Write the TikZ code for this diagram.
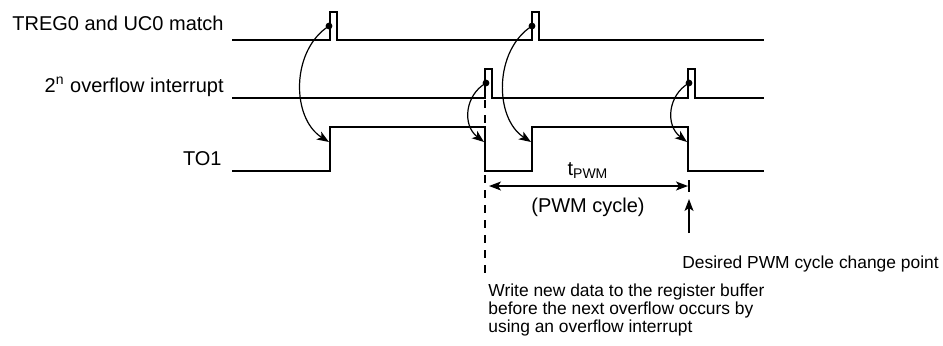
\documentclass[tikz,border=0pt]{standalone}
\usepackage{fontspec}
\setmainfont{Liberation Sans}
\usetikzlibrary{arrows.meta}
\tikzset{
  wave/.style={line width=1pt,line join=miter},
  cause/.style={-{Stealth[length=6pt,width=4.5pt,inset=1.5pt]},line width=0.6pt},
  span/.style={{Stealth[length=6pt,width=4.5pt,inset=1.5pt]}-{Stealth[length=6pt,width=4.5pt,inset=1.5pt]},line width=0.7pt},
  pointer/.style={-{Stealth[length=6pt,width=4.5pt,inset=1.5pt]},line width=0.7pt},
  hit/.style={circle,fill,inner sep=0pt,minimum size=3.4pt},
  siglabel/.style={anchor=base east,inner sep=0pt,font=\fontsize{10}{12}\selectfont},
  note/.style={inner sep=0pt,align=left,font=\fontsize{8.7}{9}\selectfont}
}
\begin{document}
\begin{tikzpicture}[x=0.5pt,y=-0.5pt]
  \useasboundingbox (0,0) rectangle (943,345);
  % signal names
  \node[siglabel] (lmatch) at (224,30) {TREG0 and UC0 match};
  \node[siglabel] (lovf) at (224,92) {2\textsuperscript{n} overflow interrupt};
  \node[siglabel] (lto) at (222,165) {TO1};
  % waveforms
  \draw[wave] (232,40) -- (330,40) -- (330,12) -- (337,12) -- (337,40) -- (532,40)
    -- (532,12) -- (539,12) -- (539,40) -- (764,40);
  \draw[wave] (232,98) -- (485,98) -- (485,69) -- (492,69) -- (492,98) -- (688,98)
    -- (688,69) -- (695,69) -- (695,98) -- (764,98);
  \draw[wave] (232,171) -- (330,171) -- (330,127) -- (485,127) -- (485,171) -- (532,171)
    -- (532,127) -- (688,127) -- (688,171) -- (764,171);
  \draw[line width=1pt,dash pattern=on 4pt off 3.5pt] (485,100) -- (485,277);
  % trigger points
  \node[hit] (m1) at (329,26) {};
  \node[hit] (m2) at (532,26) {};
  \node[hit] (o1) at (486,83) {};
  \node[hit] (o2) at (689,83) {};
  \coordinate (e1) at (329,142);
  \coordinate (e2) at (531,142);
  \coordinate (e3) at (484,142);
  \coordinate (e4) at (687,142);
  \draw[cause] (m1.center) .. controls (291,50) and (291,118) .. (e1);
  \draw[cause] (m2.center) .. controls (494,50) and (494,118) .. (e2);
  \draw[cause] (o1.center) .. controls (465,95) and (462,125) .. (e3);
  \draw[cause] (o2.center) .. controls (668,95) and (665,125) .. (e4);
  % PWM cycle
  \coordinate (c0) at (489,186);
  \coordinate (c1) at (688,186);
  \draw[span] (c0) -- (c1);
  \draw[line width=0.8pt] (689,180) -- (689,192);
  \node[anchor=base,inner sep=0pt,font=\fontsize{10}{12}\selectfont] (tpwm) at (588,175) {t\textsubscript{PWM}};
  \node[anchor=base,inner sep=0pt,font=\fontsize{10}{12}\selectfont] (cyc) at (588,212) {(PWM cycle)};
  % notes
  \coordinate (chg) at (689,233);
  \coordinate (chgtip) at (689,199);
  \draw[pointer] (chg) -- (chgtip);
  \node[note,anchor=base west] (desired) at (682,268) {Desired PWM cycle change point};
  \node[note,anchor=north west] (write) at (488,283) {Write new data to the register buffer\\
    before the next overflow occurs by\\using an overflow interrupt};
\end{tikzpicture}
\end{document}
